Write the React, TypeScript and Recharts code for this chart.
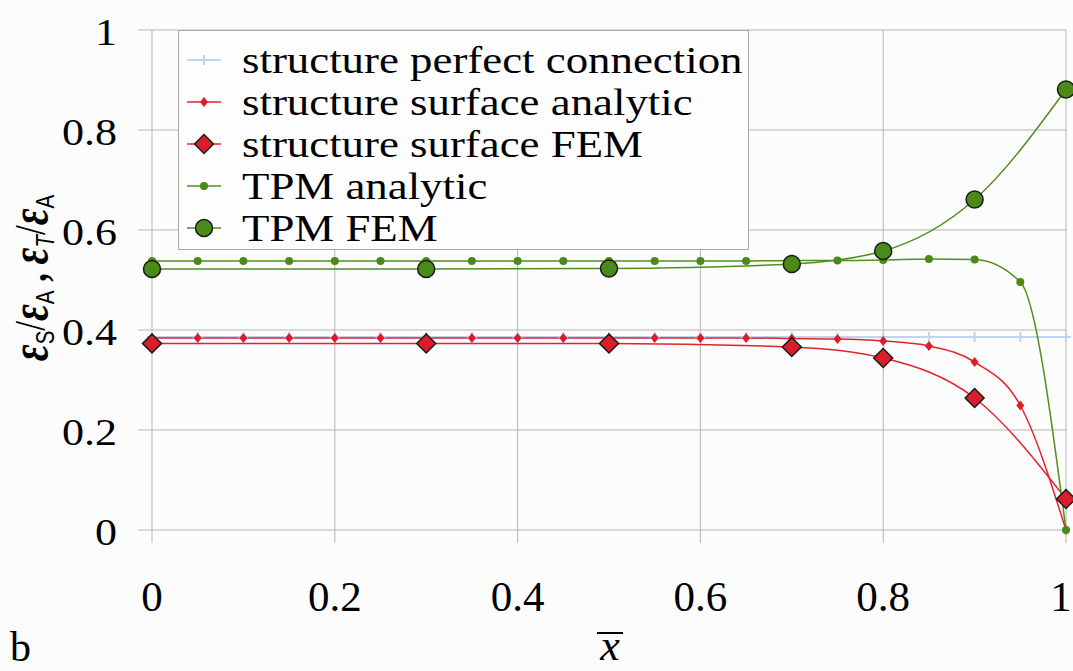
import React from 'react';
import {
  LineChart, Line, XAxis, YAxis, CartesianGrid, Legend,
} from 'recharts';

// x positions
const xAnalytic = [0, 0.05, 0.1, 0.15, 0.2, 0.25, 0.3, 0.35, 0.4, 0.45, 0.5,
  0.55, 0.6, 0.65, 0.7, 0.75, 0.8, 0.85, 0.9, 0.95, 1];
const xFem = [0, 0.3, 0.5, 0.7, 0.8, 0.9, 1];

// series values
const perfectConnection = [0.386, 0.386, 0.386, 0.386, 0.386, 0.386, 0.386, 0.386, 0.386, 0.386, 0.386,
  0.386, 0.386, 0.386, 0.386, 0.386, 0.386, 0.386, 0.386, 0.386, 0.386];
const surfaceAnalytic = [0.384, 0.384, 0.384, 0.384, 0.384, 0.384, 0.384, 0.384, 0.384, 0.384, 0.384,
  0.384, 0.384, 0.384, 0.383, 0.382, 0.378, 0.368, 0.336, 0.249, 0];
const surfaceFem = [0.373, 0.373, 0.373, 0.366, 0.344, 0.264, 0.062];
const tpmAnalytic = [0.538, 0.538, 0.538, 0.538, 0.538, 0.538, 0.538, 0.538, 0.538, 0.538, 0.538,
  0.538, 0.538, 0.538, 0.539, 0.539, 0.540, 0.542, 0.541, 0.496, 0];
const tpmFem = [0.522, 0.522, 0.523, 0.532, 0.558, 0.661, 0.881];

const xTicks = [0, 0.2, 0.4, 0.6, 0.8, 1];
const yTicks = [0, 0.2, 0.4, 0.6, 0.8, 1];

const legendLabels = [
  'structure perfect connection',
  'structure surface analytic',
  'structure surface FEM',
  'TPM analytic',
  'TPM FEM',
];

const BLUE = '#bdd5f1';
const RED = '#e3232c';
const RED_FILL = '#d81e2a';
const GREEN = '#4f8f1e';
const GREEN_FILL = '#4a8a17';
const GRID = '#b5b5b5';
const SERIF = '"Liberation Serif", "Times New Roman", serif';

const zip = (xs: number[], ys: number[]) => xs.map((x, i) => ({ x, y: ys[i] }));

const plusDot = (p: any) => (
  <path key={`p${p.index}`} d={`M${p.cx - 5},${p.cy} H${p.cx + 5} M${p.cx},${p.cy - 5} V${p.cy + 5}`}
        stroke={BLUE} strokeWidth={2} fill="none" />
);
const smallDiamond = (p: any) => (
  <path key={`d${p.index}`} d={`M${p.cx},${p.cy - 5} L${p.cx + 4},${p.cy} L${p.cx},${p.cy + 5} L${p.cx - 4},${p.cy} Z`}
        fill={RED_FILL} />
);
const bigDiamond = (p: any) => (
  <path key={`D${p.index}`} d={`M${p.cx},${p.cy - 9.5} L${p.cx + 9.5},${p.cy} L${p.cx},${p.cy + 9.5} L${p.cx - 9.5},${p.cy} Z`}
        fill={RED_FILL} stroke="#1a1a1a" strokeWidth={1.5} />
);
const smallCircle = (p: any) => (
  <circle key={`c${p.index}`} cx={p.cx} cy={p.cy} r={4} fill={GREEN_FILL} />
);
const bigCircle = (p: any) => (
  <circle key={`C${p.index}`} cx={p.cx} cy={p.cy} r={8.5} fill={GREEN_FILL} stroke="#1a1a1a" strokeWidth={1.5} />
);

function XTick({ x, y, payload }: any) {
  // keep the last label ("1") inside the picture
  const tx = Math.min(x, 1061);
  return (
    <text x={tx} y={y + 66} textAnchor="middle" fontFamily={SERIF} fontSize={43} fill="#000">
      {String(payload.value)}
    </text>
  );
}

function YTick({ x, y, payload }: any) {
  return (
    <text transform={`translate(${x - 19},${y + 15}) scale(1.19,1)`} textAnchor="end"
          fontFamily={SERIF} fontSize={37} fill="#000">
      {String(payload.value)}
    </text>
  );
}

function YLabel() {
  const eps = { fontWeight: 'bold', fontStyle: 'italic', fontSize: 52 } as const;
  const sub = { fontFamily: '"Liberation Sans", Arial, sans-serif', fontSize: 26, fontWeight: 'normal', fontStyle: 'normal' } as const;
  const k = 0.79;
  return (
    <text transform={`rotate(-90) scale(${k},1)`} x={-278 / k} y={47} textAnchor="middle" fontFamily={SERIF} fill="#000">
      <tspan {...eps}>ε</tspan>
      <tspan {...sub} dy={7}>S</tspan>
      <tspan fontSize={44} dy={-9}>/</tspan>
      <tspan {...eps} dy={2}>ε</tspan>
      <tspan {...sub} dy={7}>A</tspan>
      <tspan fontSize={44} fontWeight="bold" dy={-7}> , </tspan>
      <tspan {...eps}>ε</tspan>
      <tspan {...sub} fontStyle="italic" dy={7}>T</tspan>
      <tspan fontSize={44} dy={-9}>/</tspan>
      <tspan {...eps} dy={2}>ε</tspan>
      <tspan {...sub} dy={7}>A</tspan>
    </text>
  );
}

function XLabel() {
  return (
    <g>
      <text x={610} y={660} textAnchor="middle" fontFamily={SERIF} fontStyle="italic" fontSize={44} fill="#000">x</text>
      <line x1={597} x2={623} y1={633} y2={633} stroke="#000" strokeWidth={2} />
      <text x={10} y={661} fontFamily={SERIF} fontSize={42} fill="#000">b</text>
    </g>
  );
}

function LegendIcon({ i }: { i: number }) {
  const color = i === 0 ? BLUE : i < 3 ? RED : GREEN;
  const p = { cx: 17, cy: 21, index: i };
  const marks = [plusDot, smallDiamond, bigDiamond, smallCircle, bigCircle];
  return (
    <svg width={36} height={42} style={{ display: 'block', flex: 'none' }}>
      <line x1={0} x2={34} y1={21} y2={21} stroke={color} strokeWidth={i === 0 ? 2 : 1.5} />
      {marks[i](p)}
    </svg>
  );
}

function LegendBox() {
  return (
    <div style={{
      width: 571, height: 220, boxSizing: 'border-box', border: `1px solid #a8a8a8`,
      background: '#fdfdfd', paddingTop: 8, paddingLeft: 8, fontFamily: SERIF,
    }}>
      {legendLabels.map((label, i) => (
        <div key={label} style={{ display: 'flex', alignItems: 'center', height: 42 }}>
          <LegendIcon i={i} />
          <span style={{
            display: 'inline-block', marginLeft: 19, fontSize: 38, lineHeight: '42px', color: '#000',
            transform: 'scaleX(1.18)', transformOrigin: 'left center', whiteSpace: 'nowrap',
          }}>{label}</span>
        </div>
      ))}
    </div>
  );
}

export default function App() {
  return (
    <div style={{ position: 'absolute', left: 0, top: 0, width: 1073, height: 671, background: '#fcfcfc' }}>
      <LineChart width={1073} height={671} margin={{ top: 30, right: 7, bottom: 0, left: 0 }}>
        <CartesianGrid stroke={GRID} horizontalValues={yTicks} verticalValues={xTicks} />
        <XAxis dataKey="x" type="number" domain={[0, 1]} ticks={xTicks} height={141}
               axisLine={false} tickLine={{ stroke: GRID }} tickSize={13} tick={<XTick />}
               interval={0} allowDuplicatedCategory={false} />
        <YAxis type="number" domain={[0, 1]} ticks={yTicks} width={152}
               axisLine={false} tickLine={{ stroke: GRID }} tickSize={14} tick={<YTick />} interval={0} />
        <Legend layout="vertical" align="center" verticalAlign="middle" content={<LegendBox />}
                wrapperStyle={{ left: 178, top: 30, width: 571, height: 220 }} />
        <Line data={zip(xAnalytic, perfectConnection)} dataKey="y" type="monotone" stroke={BLUE}
              strokeWidth={2} dot={plusDot} activeDot={false} isAnimationActive={false} />
        <Line data={zip(xAnalytic, surfaceAnalytic)} dataKey="y" type="monotone" stroke={RED}
              strokeWidth={1.5} dot={smallDiamond} activeDot={false} isAnimationActive={false} />
        <Line data={zip(xFem, surfaceFem)} dataKey="y" type="monotone" stroke={RED}
              strokeWidth={1.5} dot={bigDiamond} activeDot={false} isAnimationActive={false} />
        <Line data={zip(xAnalytic, tpmAnalytic)} dataKey="y" type="monotone" stroke={GREEN}
              strokeWidth={1.5} dot={smallCircle} activeDot={false} isAnimationActive={false} />
        <Line data={zip(xFem, tpmFem)} dataKey="y" type="monotone" stroke={GREEN}
              strokeWidth={1.5} dot={bigCircle} activeDot={false} isAnimationActive={false} />
      </LineChart>
      <svg width={1073} height={671} style={{ position: 'absolute', left: 0, top: 0, pointerEvents: 'none' }}>
        <YLabel />
        <XLabel />
      </svg>
    </div>
  );
}
